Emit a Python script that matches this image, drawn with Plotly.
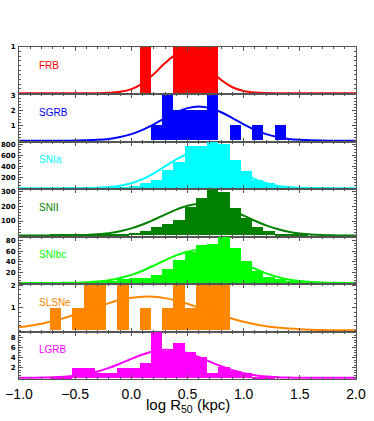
import plotly.graph_objects as go
from plotly.subplots import make_subplots

# ---------------- data ----------------
names = ["FRB", "SGRB", "SNIa", "SNII", "SNIbc", "SLSNe", "LGRB"]
colors = ["#FF0000", "#0000FF", "#00FFFF", "#008000", "#00FF00", "#FF8700", "#FF00FF"]

# histogram bin centres (log R50, bin width 0.1) and heights
frb_bins = [0.125, 0.425, 0.525, 0.625, 0.725]
frb_cnts = [1, 1, 1, 1, 1]

sgrb_bins = [0.225, 0.325, 0.425, 0.525, 0.625, 0.725, 0.925, 1.125, 1.325]
sgrb_cnts = [1, 3, 2, 2, 2, 3, 1, 1, 1]

snia_bins = [-0.375, -0.275, -0.175, -0.075, 0.025, 0.125, 0.225, 0.325, 0.425, 0.525,
             0.625, 0.725, 0.825, 0.925, 1.025, 1.125, 1.225, 1.325, 1.425, 1.525, 1.625]
snia_cnts = [2, 4, 8, 20, 45, 90, 150, 335, 485, 760,
             760, 860, 800, 510, 305, 150, 90, 45, 20, 8, 3]

snii_bins = [-0.675, -0.575, -0.475, -0.375, -0.275, -0.175, -0.075, 0.025, 0.125, 0.225,
             0.325, 0.425, 0.525, 0.625, 0.725, 0.825, 0.925, 1.025, 1.125, 1.225,
             1.325, 1.425, 1.525]
snii_cnts = [3, 3, 3, 3, 8, 10, 12, 18, 27, 56,
             78, 107, 193, 256, 320, 300, 185, 116, 56, 27,
             11, 5, 2]

snibc_bins = [-0.675, -0.475, -0.375, -0.275, -0.175, -0.075, 0.025, 0.125, 0.225, 0.325,
              0.425, 0.525, 0.625, 0.725, 0.825, 0.925, 1.025, 1.125, 1.225, 1.325,
              1.425, 1.525, 1.625]
snibc_cnts = [1, 0.5, 1, 3, 5, 8, 9, 10, 16, 27,
              44, 59, 72, 73, 90, 67, 41, 23, 12, 8,
              4, 2, 1]

slsne_bins = [-0.675, -0.475, -0.375, -0.275, -0.075, 0.125, 0.325, 0.425, 0.525, 0.625, 0.725, 0.825]
slsne_cnts = [1, 1, 2, 2, 2, 1, 1, 2, 1, 2, 2, 2]

lgrb_bins = [-0.675, -0.575, -0.475, -0.375, -0.275, -0.175, -0.075, 0.025, 0.125, 0.225,
             0.325, 0.425, 0.525, 0.625, 0.725, 0.825, 0.925, 1.025, 1.125, 1.225]
lgrb_cnts = [0.2, 0.3, 2.1, 2.1, 1.0, 1.0, 2.1, 2.1, 3.1, 9.5,
             5.5, 7.0, 5.2, 4.2, 1.0, 2.3, 1.5, 1.0, 0.3, 0.1]

# fitted curves on a 0.1 grid
curve_x = [-1.0, -0.9, -0.8, -0.7, -0.6, -0.5, -0.4, -0.3, -0.2, -0.1, 0.0,
           0.1, 0.2, 0.3, 0.4, 0.5, 0.6, 0.7, 0.8, 0.9, 1.0,
           1.1, 1.2, 1.3, 1.4, 1.5, 1.6, 1.7, 1.8, 1.9, 2.0]

frb_curve = [0, 0, 0, 0, 0, 0, 0, 0, 0.009, 0.031, 0.090,
             0.214, 0.414, 0.653, 0.837, 0.872, 0.739, 0.510, 0.286, 0.130, 0.048,
             0.015, 0.004, 0.001, 0, 0, 0, 0, 0, 0, 0]
sgrb_curve = [0, 0, 0, 0, 0, 0.009, 0.023, 0.055, 0.119, 0.238, 0.432,
              0.715, 1.080, 1.489, 1.873, 2.149, 2.25, 2.149, 1.873, 1.489, 1.080,
              0.715, 0.432, 0.238, 0.119, 0.055, 0.023, 0.009, 0, 0, 0]
snia_curve = [0, 0, 0, 0, 0, 0.8, 2.5, 7.2, 18.6, 42.7, 88,
              162, 267, 394, 520, 615, 650, 615, 520, 394, 267,
              162, 88, 42.7, 18.6, 7.2, 2.5, 0.8, 0, 0, 0]
snii_curve = [0, 0, 0, 0.3, 0.8, 1.9, 4.2, 8.7, 16.7, 29.8, 49.3,
              75.8, 108.5, 144.2, 178.3, 204.8, 218.7, 217.1, 200.4, 171.9, 137.0,
              101.6, 70.0, 44.8, 26.7, 14.8, 7.6, 3.6, 1.6, 0.7, 0.3]
snibc_curve = [0, 0, 0, 0, 0.27, 0.63, 1.39, 2.82, 5.32, 9.34, 15.2,
               23.1, 32.6, 42.7, 51.9, 58.8, 61.9, 60.6, 55.1, 46.6, 36.6,
               26.7, 18.1, 11.5, 6.7, 3.7, 1.9, 0.9, 0.4, 0.15, 0.05]
slsne_curve = [0.136, 0.203, 0.293, 0.407, 0.545, 0.703, 0.875, 1.049, 1.211, 1.348, 1.447,
               1.496, 1.490, 1.431, 1.324, 1.181, 1.014, 0.840, 0.670, 0.516, 0.382,
               0.273, 0.188, 0.125, 0.080, 0.049, 0.029, 0.017, 0.009, 0.005, 0.002]
lgrb_curve = [0.003, 0.017, 0.044, 0.101, 0.214, 0.418, 0.758, 1.271, 1.973, 2.835, 3.773,
              4.646, 5.297, 5.592, 5.463, 4.942, 4.138, 3.208, 2.302, 1.529, 0.941,
              0.535, 0.282, 0.138, 0.062, 0.025, 0.010, 0.004, 0, 0, 0]

# y axes: top of range, labelled ticks, minor tick step
y_tops = [1.0, 3.05, 840, 318, 87, 2.05, 9.2]
y_ticks = [[1], [1, 2, 3], [200, 400, 600, 800], [100, 200, 300], [20, 40, 60, 80], [1, 2], [2, 4, 6, 8]]
y_minor = [0.1, 0.2, 50, 20, 5, 0.2, 0.5]

x_ticks = [-1.0, -0.5, 0.0, 0.5, 1.0, 1.5, 2.0]
x_tick_text = ["\u22121.0", "\u22120.5", "0.0", "0.5", "1.0", "1.5", "2.0"]

bins_all = [frb_bins, sgrb_bins, snia_bins, snii_bins, snibc_bins, slsne_bins, lgrb_bins]
cnts_all = [frb_cnts, sgrb_cnts, snia_cnts, snii_cnts, snibc_cnts, slsne_cnts, lgrb_cnts]
curves_all = [frb_curve, sgrb_curve, snia_curve, snii_curve, snibc_curve, slsne_curve, lgrb_curve]

# ---------------- figure ----------------
W, H = 374, 421
ML, MR, MT, MB = 19, 18, 47, 42
frame = "#555555"

fig = make_subplots(rows=7, cols=1, shared_xaxes=True, vertical_spacing=0)

for i in range(7):
    r = i + 1
    c = colors[i]
    fig.add_trace(go.Bar(x=bins_all[i], y=cnts_all[i], width=0.1,
                         marker=dict(color=c, line=dict(width=0)),
                         showlegend=False, hoverinfo="skip"), row=r, col=1)
    fig.add_trace(go.Scatter(x=curve_x, y=curves_all[i], mode="lines",
                             line=dict(color=c, width=2, shape="spline", smoothing=1.0),
                             showlegend=False, hoverinfo="skip"), row=r, col=1)
    top = y_tops[i]
    fig.update_yaxes(range=[-top * 0.025, top], tickmode="array", tickvals=y_ticks[i],
                     ticks="inside", ticklen=4, tickcolor=frame,
                     minor=dict(ticks="inside", ticklen=2, dtick=y_minor[i], tick0=0, tickcolor=frame),
                     showline=True, mirror="ticks", linecolor=frame, linewidth=1,
                     showgrid=False, zeroline=False, ticklabelstandoff=1, automargin=False,
                     tickfont=dict(family="DejaVu Sans", size=7, color="black", weight="bold"),
                     row=r, col=1)
    fig.update_xaxes(range=[-1, 2], tickmode="array", tickvals=x_ticks, ticktext=x_tick_text,
                     ticks="inside", ticklen=4, tickcolor=frame,
                     minor=dict(ticks="inside", ticklen=2, dtick=0.1, tick0=0, tickcolor=frame),
                     showline=True, mirror="ticks", linecolor=frame, linewidth=1,
                     showgrid=False, zeroline=False, automargin=False,
                     showticklabels=(r == 7),
                     tickfont=dict(family="Liberation Sans", size=14, color="black"),
                     ticklabelstandoff=2,
                     row=r, col=1)
    xr = "x" if r == 1 else f"x{r}"
    yr = "y domain" if r == 1 else f"y{r} domain"
    fig.add_annotation(text=names[i], x=-0.84, y=0.62, xref=xr, yref=yr,
                       xanchor="left", yanchor="middle", showarrow=False,
                       font=dict(family="Liberation Sans", size=10, color=c))

plot_h = H - MT - MB
title_px = 406  # centre of the axis title, in figure pixels
fig.add_annotation(text="log R<sub>50</sub> (kpc)", x=0.5, xref="paper",
                   y=-(title_px - (H - MB)) / plot_h, yref="paper",
                   xanchor="center", yanchor="middle", showarrow=False,
                   font=dict(family="Liberation Sans", size=15, color="black"))

fig.update_layout(width=W, height=H, margin=dict(l=ML, r=MR, t=MT, b=MB, autoexpand=False),
                  paper_bgcolor="white", plot_bgcolor="white", bargap=0,
                  barmode="overlay")

# remove the page's default 8px body margin so the figure sits at the window's corner
fig.write_html("out.html", config={"displayModeBar": False},
               post_script="document.body.style.margin='0px';")
